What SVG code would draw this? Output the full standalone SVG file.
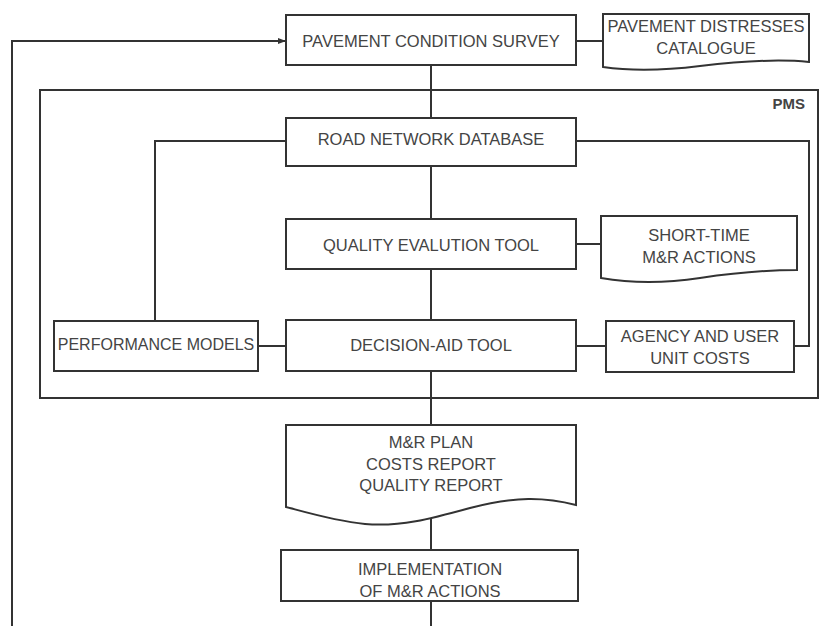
<svg xmlns="http://www.w3.org/2000/svg" width="821" height="626" viewBox="0 0 821 626">
<defs>
<style>
.b{fill:#fff;stroke:#333;stroke-width:2}
.c{fill:none;stroke:#333;stroke-width:2}
.t{font-family:"Liberation Sans",Arial,sans-serif;font-size:16.5px;fill:#444;text-anchor:middle}
</style>
<marker id="ah" markerWidth="8" markerHeight="8" refX="7" refY="4" orient="auto" markerUnits="userSpaceOnUse">
<path d="M0,1 L8,4 L0,7 Z" fill="#333"/>
</marker>
</defs>
<rect width="821" height="626" fill="#fff"/>
<g id="pms">
<rect x="40" y="90" width="778" height="308" class="c"/>
<text x="805" y="109" class="t" style="font-size:15px;font-weight:bold;text-anchor:end">PMS</text>
</g>
<g id="connectors">
<polyline points="12,626 12,41 285,41" class="c" marker-end="url(#ah)"/>
<line x1="576" y1="41" x2="603" y2="41" class="c"/>
<line x1="431" y1="65" x2="431" y2="118" class="c"/>
<polyline points="286,141 155,141 155,321" class="c"/>
<polyline points="576,141 809,141 809,346 794,346" class="c"/>
<line x1="431" y1="166" x2="431" y2="219" class="c"/>
<line x1="576" y1="244" x2="601" y2="244" class="c"/>
<line x1="431" y1="269" x2="431" y2="320" class="c"/>
<line x1="258" y1="346" x2="286" y2="346" class="c"/>
<line x1="576" y1="346" x2="606" y2="346" class="c"/>
<line x1="431" y1="371" x2="431" y2="425" class="c"/>
<line x1="431" y1="518" x2="431" y2="550" class="c"/>
<line x1="431" y1="601" x2="431" y2="626" class="c"/>
</g>
<g id="survey">
<rect x="286" y="15" width="290" height="50" class="b"/>
<text x="431" y="47" class="t">PAVEMENT CONDITION SURVEY</text>
</g>
<g id="catalogue">
<path d="M603,14 H809 V62 C780,59 750,60 700,66 C660,71 630,71 603,67 Z" class="b"/>
<text x="706" y="32" class="t">PAVEMENT DISTRESSES</text>
<text x="706" y="54" class="t">CATALOGUE</text>
</g>
<g id="database">
<rect x="286" y="118" width="290" height="48" class="b"/>
<text x="431" y="145" class="t">ROAD NETWORK DATABASE</text>
</g>
<g id="quality">
<rect x="286" y="219" width="290" height="50" class="b"/>
<text x="431" y="251" class="t">QUALITY EVALUTION TOOL</text>
</g>
<g id="shorttime">
<path d="M601,216 H797 V270 C770,270 740,272 700,278 C660,284 630,283 601,278 Z" class="b"/>
<text x="699" y="241" class="t">SHORT-TIME</text>
<text x="699" y="263" class="t">M&amp;R ACTIONS</text>
</g>
<g id="performance">
<rect x="54" y="321" width="204" height="50" class="b"/>
<text x="156" y="350" class="t" style="font-size:16px">PERFORMANCE MODELS</text>
</g>
<g id="decision">
<rect x="286" y="320" width="290" height="51" class="b"/>
<text x="431" y="351" class="t">DECISION-AID TOOL</text>
</g>
<g id="agency">
<rect x="606" y="321" width="188" height="51" class="b"/>
<text x="700" y="342" class="t">AGENCY AND USER</text>
<text x="700" y="364" class="t">UNIT COSTS</text>
</g>
<g id="plan">
<path d="M286,425 H576 V505 C545,497 515,496 470,508 C430,519 400,527 365,524 C335,521 305,512 286,507 Z" class="b"/>
<text x="431" y="448" class="t">M&amp;R PLAN</text>
<text x="431" y="470" class="t">COSTS REPORT</text>
<text x="431" y="491" class="t">QUALITY REPORT</text>
</g>
<g id="implementation">
<rect x="281" y="550" width="297" height="51" class="b"/>
<text x="430" y="575" class="t">IMPLEMENTATION</text>
<text x="430" y="597" class="t">OF M&amp;R ACTIONS</text>
</g>
</svg>
